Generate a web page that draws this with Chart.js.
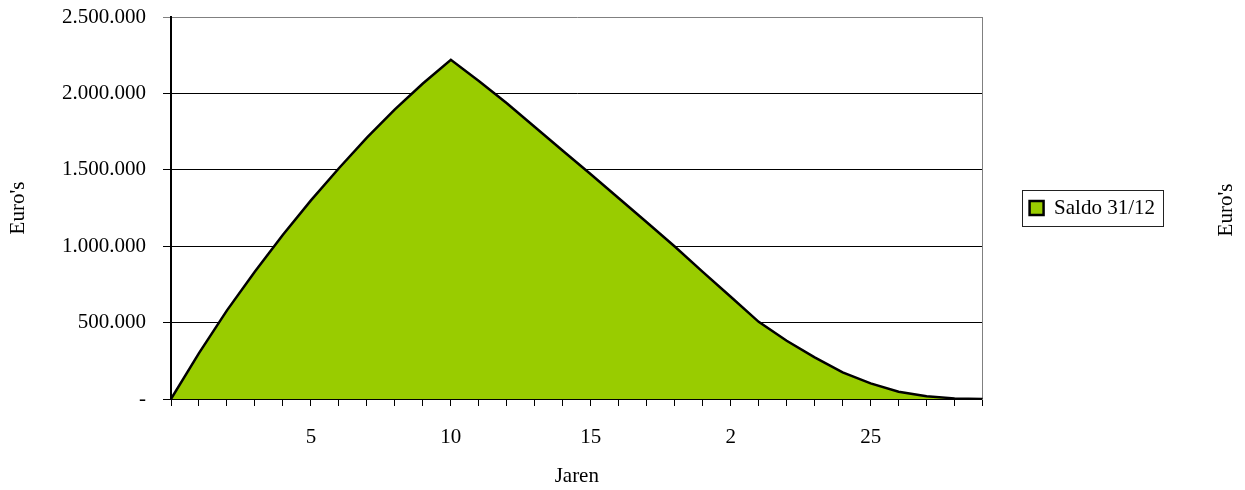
<!DOCTYPE html>
<html>
<head>
<meta charset="utf-8">
<script src="https://cdn.jsdelivr.net/npm/chart.js@4"></script>
<style>
  html, body { margin: 0; padding: 0; background: #ffffff; }
  #wrap { width: 1245px; height: 490px; }
</style>
</head>
<body>
<div id="wrap"><canvas id="c" width="1245" height="490"></canvas></div>
<script>
// ---- data ----
const categories = ['0','1','2','3','4','5','6','7','8','9','10','11','12','13','14','15','16','17','18','19','20','21','22','23','24','25','26','27','28','29'];
const xTickLabels = ['','','','','','5','','','','','10','','','','','15','','','','','2','','','','','25','','','',''];
const saldo = [0, 300000, 580000, 835000, 1075000, 1300000, 1510000, 1710000, 1895000, 2065000,
               2220000, 2081000, 1935000, 1780000, 1625000, 1471000, 1314000, 1157000, 998000, 832000,
               669000, 505000, 381000, 272000, 174000, 102000, 48000, 18000, 4000, 0];
const yTickLabels = ['-', '500.000', '1.000.000', '1.500.000', '2.000.000', '2.500.000'];
const seriesName = 'Saldo 31/12';
const yTitle = "Euro's";
const xTitle = 'Jaren';
const rightTitle = "Euro's";

const FONT = "'Liberation Serif', 'Times New Roman', serif";
Chart.defaults.font.family = FONT;
Chart.defaults.font.size = 21;
Chart.defaults.color = '#000000';

const legendBorder = {
  id: 'legendBorder',
  afterDraw(chart) {
    const lg = chart.legend;
    if (!lg || !lg.legendHitBoxes || !lg.legendHitBoxes.length) return;
    const hb = lg.legendHitBoxes[0];
    const cy = hb.top + hb.height / 2;
    const ctx = chart.ctx;
    ctx.save();
    ctx.strokeStyle = '#222222';
    ctx.lineWidth = 1;
    ctx.strokeRect(Math.round(hb.left - 8) + 0.5, Math.round(cy - 18) + 0.5, Math.round(hb.width + 16), 36);
    ctx.restore();
  }
};

const rightTitlePlugin = {
  id: 'rightTitle',
  afterDraw(chart) {
    const ctx = chart.ctx;
    const ca = chart.chartArea;
    ctx.save();
    ctx.font = '21px ' + FONT;
    ctx.fillStyle = '#000000';
    ctx.translate(1226, (ca.top + ca.bottom) / 2 + 2);
    ctx.rotate(-Math.PI / 2);
    ctx.textAlign = 'center';
    ctx.textBaseline = 'middle';
    ctx.fillText(rightTitle, 0, 0);
    ctx.restore();
  }
};

new Chart(document.getElementById('c'), {
  type: 'line',
  data: {
    labels: categories,
    datasets: [{
      label: seriesName,
      data: saldo,
      fill: 'origin',
      backgroundColor: '#99CC00',
      borderColor: '#000000',
      borderWidth: 2.5,
      tension: 0,
      pointRadius: 0,
      pointHoverRadius: 0
    }]
  },
  options: {
    responsive: false,
    animation: false,
    events: [],
    layout: { padding: { left: 0, top: 17, right: 80, bottom: 0 } },
    plugins: {
      tooltip: { enabled: false },
      legend: {
        position: 'right',
        fullSize: false,
        labels: {
          boxWidth: 14,
          boxHeight: 14,
          padding: 47,
          color: '#000000',
          font: { size: 21 }
        }
      }
    },
    scales: {
      x: {
        type: 'category',
        offset: false,
        grid: {
          display: true,
          drawOnChartArea: false,
          drawTicks: true,
          tickLength: 7,
          color: '#000000',
          lineWidth: 1
        },
        border: { display: true, color: '#000000', width: 2 },
        ticks: {
          autoSkip: false,
          maxRotation: 0,
          minRotation: 0,
          padding: 19,
          callback: (v, i) => xTickLabels[i]
        },
        title: { display: true, text: xTitle, padding: { top: 0, bottom: 1 } },
        afterFit(scale) { scale.height = 91; scale.paddingLeft = 0; scale.paddingRight = 0; }
      },
      y: {
        min: 0,
        max: 2500000,
        ticks: {
          stepSize: 500000,
          padding: 17,
          callback: (v, i) => yTickLabels[i]
        },
        grid: {
          drawTicks: true,
          tickLength: 8,
          color: (ctx) => (ctx.tick && ctx.tick.value === 2500000) ? '#808080' : '#000000',
          lineWidth: 1
        },
        border: { display: true, color: '#000000', width: 2 },
        title: { display: true, text: yTitle, padding: { top: 6, bottom: 0 } },
        afterFit(scale) { scale.width = 171; scale.paddingTop = 0; scale.paddingBottom = 0; }
      },
      y2: {
        position: 'right',
        min: 0,
        max: 1,
        grid: { display: false, drawTicks: false },
        ticks: { display: false },
        border: { display: true, color: '#808080', width: 1 },
        title: { display: false },
        afterFit(scale) { scale.paddingTop = 0; scale.paddingBottom = 0; }
      }
    }
  },
  plugins: [legendBorder, rightTitlePlugin]
});
</script>
</body>
</html>
